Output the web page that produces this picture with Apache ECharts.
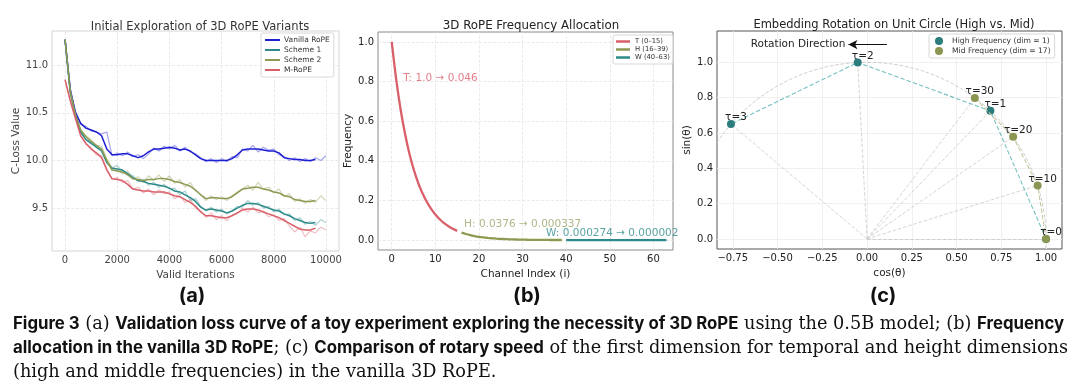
<!DOCTYPE html>
<html><head><meta charset="utf-8">
<script src="https://cdn.jsdelivr.net/npm/echarts@6/dist/echarts.min.js"></script>
<style>html,body{margin:0;padding:0;background:#fff}#c{width:1080px;height:389px}</style>
</head><body><div id="c"></div>
<script>
// ---------- (a) data ----------
const rawIters = [0,200,400,600,800,1000,1200,1400,1600,1800,2000,2200,2400,2600,2800,3000,3200,3400,3600,3800,4000,4200,4400,4600,4800,5000,5200,5400,5600,5800,6000,6200,6400,6600,6800,7000,7200,7400,7600,7800,8000,8200,8400,8600,8800,9000,9200,9400,9600,9800,10000];
const vanillaRaw = [11.27,10.72,10.52,10.38,10.36,10.31,10.30,10.28,10.30,10.05,10.08,10.05,10.09,10.04,10.06,10.02,10.07,10.13,10.10,10.15,10.12,10.16,10.10,10.14,10.09,10.07,10.03,9.99,10.02,9.98,10.02,9.99,10.04,10.03,10.12,10.10,10.16,10.09,10.14,10.11,10.12,10.06,10.04,10.00,10.03,9.99,10.02,9.99,10.03,10.00,10.05];
const scheme1Raw = [11.27,10.70,10.48,10.30,10.22,10.20,10.14,10.11,9.98,9.92,9.95,9.88,9.87,9.84,9.78,9.80,9.74,9.77,9.72,9.75,9.70,9.71,9.64,9.68,9.58,9.60,9.52,9.47,9.51,9.46,9.49,9.44,9.47,9.52,9.51,9.58,9.53,9.56,9.50,9.52,9.46,9.49,9.43,9.44,9.37,9.40,9.33,9.36,9.32,9.38,9.35];
const scheme2Raw = [11.27,10.71,10.50,10.32,10.26,10.22,10.16,10.15,10.02,9.93,9.90,9.86,9.89,9.80,9.83,9.77,9.84,9.79,9.85,9.78,9.84,9.76,9.80,9.72,9.77,9.68,9.64,9.58,9.63,9.59,9.62,9.58,9.63,9.67,9.70,9.74,9.69,9.77,9.70,9.72,9.66,9.70,9.62,9.65,9.57,9.60,9.55,9.59,9.56,9.63,9.58];
const mropeRaw = [10.85,10.62,10.44,10.26,10.17,10.14,10.06,10.05,9.92,9.80,9.82,9.77,9.79,9.70,9.72,9.66,9.70,9.64,9.69,9.65,9.67,9.60,9.63,9.56,9.59,9.50,9.47,9.40,9.45,9.38,9.42,9.37,9.43,9.44,9.50,9.46,9.51,9.45,9.47,9.41,9.43,9.37,9.39,9.31,9.25,9.30,9.20,9.26,9.24,9.30,9.27];
const smoothIters = [0,200,400,600,800,1000,1200,1400,1600,1800,2000,2200,2400,2600,2800,3000,3200,3400,3600,3800,4000,4200,4400,4600,4800,5000,5200,5400,5600,5800,6000,6200,6400,6600,6800,7000,7200,7400,7600,7800,8000,8200,8400,8600,8800,9000,9200,9400,9600];
const vanillaSmooth = [11.27,10.75,10.50,10.39,10.34,10.32,10.30,10.26,10.12,10.06,10.06,10.07,10.07,10.05,10.03,10.05,10.09,10.12,10.12,10.13,10.14,10.13,10.11,10.12,10.10,10.06,10.02,10.00,10.00,10.00,10.00,10.00,10.02,10.06,10.11,10.12,10.12,10.12,10.11,10.10,10.10,10.08,10.03,10.02,10.01,10.01,10.00,10.00,10.01];
const scheme1Smooth = [11.27,10.72,10.47,10.30,10.22,10.18,10.14,10.10,9.98,9.92,9.91,9.90,9.86,9.82,9.79,9.78,9.76,9.75,9.74,9.73,9.71,9.68,9.67,9.64,9.61,9.57,9.51,9.48,9.49,9.48,9.47,9.45,9.47,9.50,9.53,9.55,9.55,9.54,9.52,9.50,9.48,9.47,9.44,9.42,9.39,9.37,9.35,9.34,9.35];
const scheme2Smooth = [11.27,10.73,10.48,10.32,10.25,10.20,10.16,10.12,10.00,9.90,9.89,9.88,9.85,9.81,9.80,9.79,9.80,9.80,9.81,9.81,9.80,9.78,9.77,9.75,9.73,9.69,9.64,9.60,9.61,9.61,9.60,9.60,9.62,9.66,9.70,9.71,9.72,9.72,9.70,9.69,9.67,9.66,9.63,9.62,9.59,9.58,9.57,9.57,9.58];
const mropeSmooth = [10.85,10.63,10.44,10.26,10.18,10.12,10.08,10.03,9.90,9.81,9.80,9.79,9.75,9.70,9.69,9.68,9.68,9.67,9.67,9.67,9.65,9.63,9.62,9.59,9.56,9.52,9.46,9.42,9.42,9.41,9.40,9.40,9.42,9.45,9.48,9.49,9.49,9.48,9.46,9.44,9.42,9.40,9.37,9.34,9.31,9.28,9.27,9.27,9.29];
const seriesNamesA = ['Vanilla RoPE','Scheme 1','Scheme 2','M-RoPE'];
const aXTicks = [0,2000,4000,6000,8000,10000];
const aYTicks = [9.5,10.0,10.5,11.0];

// ---------- (b) data ----------
const channelT = [0,1,2,3,4,5,6,7,8,9,10,11,12,13,14,15];
const freqT = [1.0,0.8149,0.6641,0.5412,0.4410,0.3594,0.2929,0.2387,0.1945,0.1585,0.1292,0.1053,0.0858,0.0699,0.0570,0.0464];
const channelH = [16,17,18,19,20,21,22,23,24,25,26,27,28,29,30,31,32,33,34,35,36,37,38,39];
const freqH = [0.0376,0.0308,0.0251,0.0205,0.0167,0.0136,0.0111,0.00903,0.00736,0.00600,0.00489,0.00398,0.00325,0.00265,0.00216,0.00176,0.00143,0.00117,0.00095,0.00078,0.00063,0.00052,0.00042,0.000337];
const channelW = [40,41,42,43,44,45,46,47,48,49,50,51,52,53,54,55,56,57,58,59,60,61,62,63];
const freqW = [0.000274,0.000223,0.000182,0.000148,0.000121,0.000098,0.000080,0.000065,0.000053,0.000043,0.000035,0.000029,0.000023,0.000019,0.000016,0.000013,0.000010,0.000008,0.000007,0.000005,0.000004,0.000004,0.000003,0.000002];
const bLegend = ['T (0–15)','H (16–39)','W (40–63)'];
const bAnnotText = ['T: 1.0 → 0.046','H: 0.0376 → 0.000337','W: 0.000274 → 0.000002'];
const bAnnotPos = [[2.66,0.818],[16.6,0.079],[35.4,0.034]];
const bXTicks = [0,10,20,30,40,50,60];
const bYTicks = [0,0.2,0.4,0.6,0.8,1.0];

// ---------- (c) data ----------
const highTau = [0,1,2,3];
const highCos = [1.000,0.689,-0.052,-0.760];
const highSin = [0.000,0.725,0.999,0.650];
const midTau = [0,10,20,30];
const midCos = [1.000,0.953,0.816,0.602];
const midSin = [0.000,0.303,0.578,0.798];
const cLegend = ['High Frequency (dim = 1)','Mid Frequency (dim = 17)'];
const arrowFrom = [0.111,1.10];
const arrowTo = [-0.104,1.10];
const circleRadius = 1;
const cXTicks = [-0.75,-0.5,-0.25,0,0.25,0.5,0.75,1.0];
const cYTicks = [0,0.2,0.4,0.6,0.8,1.0];

// ---------- colours ----------
const C_BLUE='#1f1fd2', C_TEAL='#2e8a8a', C_OLIVE='#8d9a52', C_RED='#d9606a';
const FONT='DejaVu Sans';

const zip=(xs,ys)=>xs.map((x,i)=>[x,ys[i]]);
const minus=s=>s.replace('-','\u2212');

function gridLines(xt, yt, color, type){
  return {silent:true, symbol:['none','none'], label:{show:false}, z:1, animation:false,
    lineStyle:{color:color,type:type,width:0.8},
    emphasis:{disabled:true},
    data: xt.map(v=>({xAxis:v})).concat(yt.map(v=>({yAxis:v})))};
}

function xAx(gi,min,max,ticks,fmt,name,col){
  return {type:'value',gridIndex:gi,min:min,max:max,
    axisLine:{show:false},axisTick:{show:false},splitLine:{show:false},
    axisLabel:{customValues:ticks,formatter:fmt,color:col,fontSize:10,fontFamily:FONT,margin:4},
    name:name,nameLocation:'middle',nameGap:15,nameTextStyle:{color:col,fontSize:10.5,fontFamily:FONT}};
}
function yAx(gi,min,max,ticks,fmt,name,col,gap){
  return {type:'value',gridIndex:gi,min:min,max:max,
    axisLine:{show:false},axisTick:{show:false},splitLine:{show:false},
    axisLabel:{customValues:ticks,formatter:fmt,color:col,fontSize:10,fontFamily:FONT,margin:4},
    name:name,nameLocation:'middle',nameGap:gap,nameTextStyle:{color:col,fontSize:10.5,fontFamily:FONT}};
}

const rawA=[vanillaRaw,scheme1Raw,scheme2Raw,mropeRaw];
const smoothA=[vanillaSmooth,scheme1Smooth,scheme2Smooth,mropeSmooth];
const colA=[C_BLUE,C_TEAL,C_OLIVE,C_RED];

const series=[];
rawA.forEach((arr,i)=>{
  const s={type:'line',name:seriesNamesA[i]+' raw',xAxisIndex:0,yAxisIndex:0,data:zip(rawIters,arr),
    showSymbol:false,symbol:'none',silent:true,z:2,
    lineStyle:{color:colA[i],width:1.2,opacity:0.4},itemStyle:{color:colA[i]}};
  if(i===0) s.markLine=gridLines(aXTicks,aYTicks,'#e4e4e4','dashed');
  series.push(s);
});
smoothA.forEach((arr,i)=>{
  series.push({type:'line',name:seriesNamesA[i],xAxisIndex:0,yAxisIndex:0,data:zip(smoothIters,arr),
    showSymbol:false,symbol:'none',z:3,
    lineStyle:{color:colA[i],width:1.5},itemStyle:{color:colA[i]}});
});

// (b)
const bData=[[channelT,freqT,C_RED],[channelH,freqH,C_OLIVE],[channelW,freqW,C_TEAL]];
bData.forEach((d,i)=>{
  const s={type:'line',name:bLegend[i],xAxisIndex:1,yAxisIndex:1,data:zip(d[0],d[1]),smooth:0.3,
    showSymbol:false,symbol:'none',z:3,lineStyle:{color:d[2],width:2.3},itemStyle:{color:d[2]}};
  if(i===0) s.markLine=gridLines(bXTicks,bYTicks,'#e6e6e6','dashed');
  series.push(s);
});
const bAnnotCol=[C_RED,'#9ba56b',C_TEAL];
bAnnotText.forEach((t,i)=>{
  series.push({type:'scatter',name:'annot'+i,xAxisIndex:1,yAxisIndex:1,data:[bAnnotPos[i]],symbolSize:0,silent:true,z:4,
    label:{show:true,position:'right',distance:0,formatter:t,color:bAnnotCol[i],fontSize:10.5,fontFamily:FONT}});
});

// (c)
const circlePts=[];
for(let k=0;k<=360;k+=2){const a=k*Math.PI/180;circlePts.push([circleRadius*Math.cos(a),circleRadius*Math.sin(a)]);}
series.push({type:'line',name:'circle',xAxisIndex:2,yAxisIndex:2,data:circlePts,showSymbol:false,symbol:'none',silent:true,z:2,
  lineStyle:{color:'#c8c8c8',width:0.9,type:'dashed'},markLine:gridLines(cXTicks,cYTicks,'#ececec','solid')});
const radii=zip(highCos,highSin).concat(zip(midCos,midSin)).map(p=>({coords:[[0,0],p]}));
series.push({type:'lines',name:'radii',coordinateSystem:'cartesian2d',xAxisIndex:2,yAxisIndex:2,data:radii,silent:true,z:2,
  lineStyle:{color:'#cfcfcf',width:0.9,type:'dashed',opacity:1}});
series.push({type:'line',name:cLegend[0],xAxisIndex:2,yAxisIndex:2,data:zip(highCos,highSin),symbol:'circle',symbolSize:8,z:4,
  lineStyle:{color:'#76c0c0',width:1.1,type:'dashed'},itemStyle:{color:'#2b7d7d'},
  label:{show:true,position:'top',distance:0,offset:[5,3],color:'#222',fontSize:10.5,fontFamily:FONT,
    formatter:p=>p.dataIndex===0?'':'τ='+highTau[p.dataIndex]}});
series.push({type:'line',name:cLegend[1],xAxisIndex:2,yAxisIndex:2,data:zip(midCos,midSin),symbol:'circle',symbolSize:8,z:5,
  lineStyle:{color:'#c9c79e',width:1.1,type:'dashed'},itemStyle:{color:'#8c9653'},
  label:{show:true,position:'top',distance:0,offset:[5,3],color:'#222',fontSize:10.5,fontFamily:FONT,
    formatter:p=>'τ='+midTau[p.dataIndex]},
  markLine:{silent:true,symbol:['none','arrow'],symbolSize:[7,9],z:6,animation:false,
    lineStyle:{color:'#111',width:1.2,type:'solid'},
    label:{show:true,position:'end',distance:3,formatter:'Rotation Direction',color:'#222',fontSize:10.5,fontFamily:FONT},
    data:[[{coord:arrowFrom},{coord:arrowTo}]]}});

const legendBase={orient:'vertical',backgroundColor:'rgba(255,255,255,0.85)',borderColor:'#d8d8d8',borderWidth:1,borderRadius:2};

const capRich={b:{fontFamily:'Inter',fontWeight:'bold',fontSize:16.8,fill:'#111'},r:{fontFamily:'DejaVu Serif',fontSize:17.7,fill:'#111'}};

const option={
  animation:false,
  backgroundColor:'#fff',
  title:[
    {text:'Initial Exploration of 3D RoPE Variants',left:195,top:16,textAlign:'center',textStyle:{fontFamily:FONT,fontSize:11.5,fontWeight:'normal',color:'#333'}},
    {text:'3D RoPE Frequency Allocation',left:526,top:15,textAlign:'center',textStyle:{fontFamily:FONT,fontSize:11.8,fontWeight:'normal',color:'#222'}},
    {text:'Embedding Rotation on Unit Circle (High vs. Mid)',left:889,top:14,textAlign:'center',textStyle:{fontFamily:FONT,fontSize:11.5,fontWeight:'normal',color:'#222'}}
  ],
  grid:[
    {left:52,top:31,width:287,height:220,show:true,borderColor:'#d6d6d6',borderWidth:1,backgroundColor:'#fff'},
    {left:378,top:32,width:295,height:218,show:true,borderColor:'#8a8a8a',borderWidth:1,backgroundColor:'#fff'},
    {left:717,top:31,width:345,height:218,show:true,borderColor:'#555',borderWidth:1,backgroundColor:'#fff'}
  ],
  xAxis:[
    xAx(0,-500,10500,aXTicks,v=>String(v),'Valid Iterations','#444'),
    xAx(1,-3.15,64.5,bXTicks,v=>String(v),'Channel Index (i)','#222'),
    xAx(2,-0.838,1.089,cXTicks,v=>minus(v.toFixed(2)),'cos(θ)','#222')
  ],
  yAxis:[
    yAx(0,9.05,11.36,aYTicks,v=>v.toFixed(1),'C-Loss Value','#444',27),
    yAx(1,-0.05,1.05,bYTicks,v=>v.toFixed(1),'Frequency','#222',22),
    yAx(2,-0.057,1.177,cYTicks,v=>v.toFixed(1),'sin(θ)','#222',22)
  ],
  legend:[
    Object.assign({},legendBase,{data:seriesNamesA,left:261,top:33,padding:[3,4,3,4],itemGap:2,itemWidth:15,itemHeight:2,
      icon:'rect',textStyle:{fontFamily:FONT,fontSize:7.5,color:'#333',padding:[0,0,0,-1]}}),
    Object.assign({},legendBase,{data:bLegend,left:613,top:35,padding:[3,3,3,3],itemGap:1,itemWidth:14,itemHeight:2.5,
      icon:'rect',textStyle:{fontFamily:FONT,fontSize:6.8,color:'#333'}}),
    Object.assign({},legendBase,{data:cLegend,left:929,top:34,padding:[3,4,3,6],itemGap:2,itemWidth:8,itemHeight:8,
      icon:'circle',textStyle:{fontFamily:FONT,fontSize:7.6,color:'#333',padding:[0,0,0,4]}})
  ],
  series:series,
  graphic:[
    {type:'text',x:192,y:296,style:{text:'(a)',font:'bold 20px Inter',align:'center',verticalAlign:'middle',fill:'#111'}},
    {type:'text',x:527,y:296,style:{text:'(b)',font:'bold 20px Inter',align:'center',verticalAlign:'middle',fill:'#111'}},
    {type:'text',x:883,y:296,style:{text:'(c)',font:'bold 20px Inter',align:'center',verticalAlign:'middle',fill:'#111'}},
    {type:'text',x:13,y:324,style:{verticalAlign:'middle',align:'left',font:'17.7px "DejaVu Serif"',fill:'#111',
      text:'{b|Figure 3} {r|(a)} {b|Validation loss curve of a toy experiment exploring the necessity of 3D RoPE} {r|using the 0.5B model; (b)} {b|Frequency}',
      rich:capRich}},
    {type:'text',x:13,y:348,style:{verticalAlign:'middle',align:'left',font:'17.7px "DejaVu Serif"',fill:'#111',
      text:'{b|allocation in the vanilla 3D RoPE}{r|; (c)} {b|Comparison of rotary speed} {r|of the first dimension for temporal and height dimensions}',
      rich:capRich}},
    {type:'text',x:13,y:372,style:{verticalAlign:'middle',align:'left',font:'17.7px "DejaVu Serif"',fill:'#111',
      text:'{r|(high and middle frequencies) in the vanilla 3D RoPE.}',
      rich:capRich}}
  ]
};
const chart=echarts.init(document.getElementById('c'),null,{renderer:'canvas'});
chart.setOption(option);
</script></body></html>
